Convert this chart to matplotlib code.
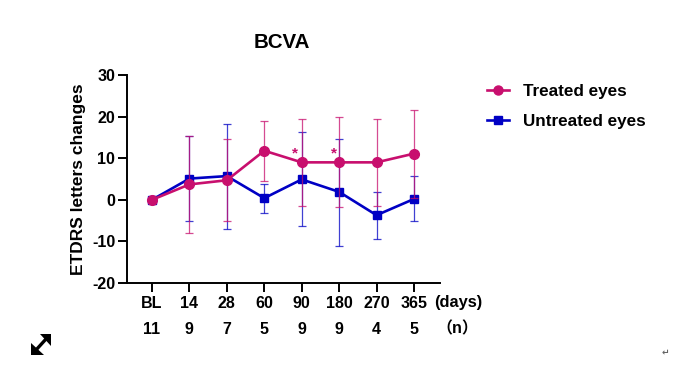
import numpy as np
import matplotlib
matplotlib.use('Agg')
import matplotlib.pyplot as plt
from matplotlib.lines import Line2D
from matplotlib.patches import Polygon

plt.rcParams['font.family'] = ['Liberation Sans', 'Noto Sans CJK SC', 'DejaVu Sans']
plt.rcParams['font.weight'] = 'bold'
plt.rcParams['axes.unicode_minus'] = False

days = ['BL', '14', '28', '60', '90', '180', '270', '365']
n_eyes = ['11', '9', '7', '5', '9', '9', '4', '5']

treated = [0, 3.7, 4.7, 11.8, 9.0, 9.0, 9.0, 11.1]
treated_up = [0, 15.4, 14.6, 19.0, 19.5, 19.85, 19.4, 21.6]
treated_lo = [0, -8.1, -5.2, 4.6, -1.4, -1.75, -1.4, 0.5]

untreated = [0, 5.1, 5.7, 0.4, 4.9, 1.9, -3.7, 0.2]
untreated_up = [0, 15.4, 18.3, 3.8, 16.2, 14.6, 1.85, 5.7]
untreated_lo = [0, -5.1, -6.9, -3.1, -6.3, -11.0, -9.4, -5.2]

pink = '#C80F6E'
blue = '#0000C4'

fig = plt.figure(figsize=(6.83, 3.69), dpi=100)
W, H = 683, 369
ax = fig.add_axes([127 / W, 1 - 283 / H, (440 - 127) / W, (283 - 75) / H])
x = np.arange(len(days))


def draw(y, up, lo, color, marker, ms):
    y = np.array(y)
    err = [y - np.array(lo), np.array(up) - y]
    # thin whiskers first, so the blended look of the overlaps shows
    ax.errorbar(x, y, yerr=err, fmt='none', ecolor=color, elinewidth=0.9,
                capsize=3, capthick=0.9, alpha=0.75, clip_on=False)
    ax.plot(x, y, color=color, marker=marker, ms=ms, lw=1.9, clip_on=False)


draw(untreated, untreated_up, untreated_lo, blue, 's', 6.4)
draw(treated, treated_up, treated_lo, pink, 'o', 7)

ax.set_xlim(-0.668, 7.695)
ax.set_ylim(-20, 30)
ax.set_yticks([-20, -10, 0, 10, 20, 30])
ax.set_xticks(x)
ax.set_xticklabels(days)
ax.tick_params(axis='both', width=1.4, length=6.5, labelsize=11.5, pad=2)
ax.tick_params(axis='x', pad=3)
for s in ['top', 'right']:
    ax.spines[s].set_visible(False)
for s in ['left', 'bottom']:
    ax.spines[s].set_linewidth(1.4)
ax.set_ylabel('ETDRS letters changes', fontsize=12.5, fontweight='bold', labelpad=4)

# stars above 90 and 180 days
for px in [295, 334]:
    fig.text(px / W, 1 - 153 / H, '*', color=pink, fontsize=11, ha='center', va='center')

fig.text(282 / W, 1 - 42 / H, 'BCVA', fontsize=14.8, ha='center', va='center')

# n row under the axis
for i, s in enumerate(n_eyes):
    ax.annotate(s, xy=(i, 0), xycoords=('data', 'figure fraction'),
                xytext=(i, 1 - 329 / H), textcoords=('data', 'figure fraction'),
                fontsize=11.5, ha='center', va='center')
fig.text(458 / W, 1 - 303 / H, '(days)', fontsize=11.8, ha='center', va='center')
fig.text(457 / W, 1 - 329 / H, '（n）', fontsize=11.5, ha='center', va='center')

handles = [Line2D([], [], color=pink, marker='o', ms=6.5, lw=1.9),
           Line2D([], [], color=blue, marker='s', ms=6, lw=1.9)]
fig.legend(handles, ['Treated eyes', 'Untreated eyes'], loc='upper left',
           bbox_to_anchor=(487 / W, 1 - 84 / H), frameon=False, fontsize=12.3,
           handlelength=1.3, labelspacing=0.86, handletextpad=0.78,
           borderpad=0, borderaxespad=0)

# expand icon bottom left and return mark bottom right
icon_line = Line2D([36 / W, 46 / W], [1 - 350 / H, 1 - 339 / H], transform=fig.transFigure,
                   color='black', lw=2.4)
fig.add_artist(icon_line)
for tri in [[(51, 334), (40, 334), (51, 346)], [(31, 355), (31, 343), (44, 355)]]:
    fig.add_artist(Polygon([(a / W, 1 - b / H) for a, b in tri], transform=fig.transFigure,
                           color='black', lw=0))
fig.text(665 / W, 1 - 352 / H, '↵', fontsize=6.5, color='#666666', ha='center', va='center',
         family='DejaVu Sans')

fig.savefig('out.png', dpi=100)
